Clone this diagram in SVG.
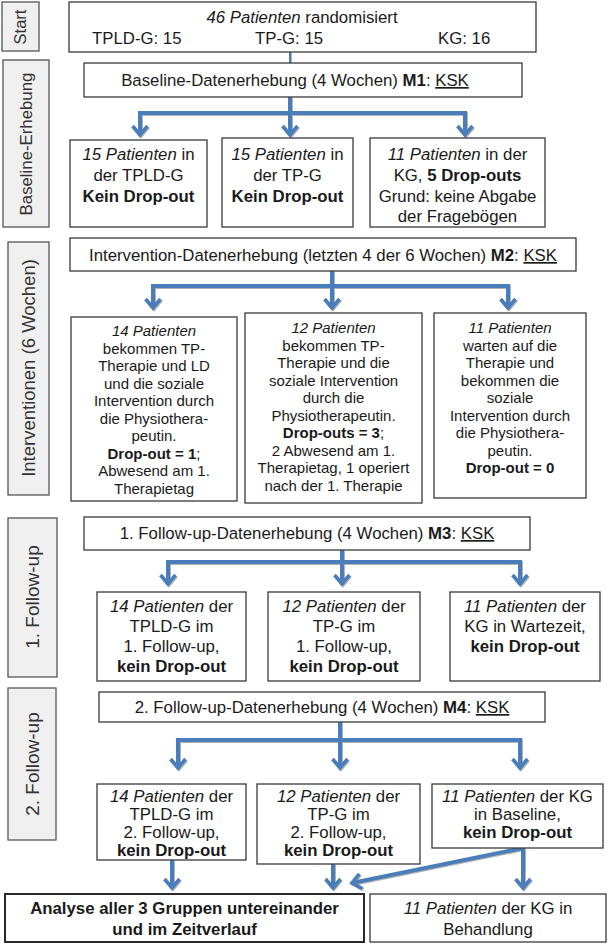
<svg xmlns="http://www.w3.org/2000/svg" width="611" height="945" viewBox="0 0 611 945">
<style>
text{font-family:"Liberation Sans",Arial,sans-serif;fill:#1a1a1a}
.t{font-size:16.8px}
.s{font-size:15px}
.c{text-anchor:middle}
.i{font-style:italic}
.b{font-weight:bold}
.u{text-decoration:underline}
.box{fill:#fff;stroke:#3a3a3a;stroke-width:1.3}
.bold{fill:#fff;stroke:#2a2a2a;stroke-width:2}
.side{fill:#f0f0f0;stroke:#555;stroke-width:1.3}
.side-t{fill:#333;text-anchor:middle}
.con{fill:none;stroke:#4a7ebb;stroke-width:4;stroke-linejoin:miter}
.thin{fill:none;stroke:#4a7ebb;stroke-width:2}
</style>
<defs>
<filter id="sh" x="-10%" y="-10%" width="120%" height="120%">
<feDropShadow dx="1" dy="1" stdDeviation="0.7" flood-color="#7f7f7f" flood-opacity="0.6"/>
</filter>
<marker id="ah" markerUnits="userSpaceOnUse" markerWidth="24" markerHeight="24" viewBox="-14 -12 18 24" refX="0" refY="0" orient="auto">
<path d="M-9,-7.5 L0,0 L-9,7.5" fill="none" stroke="#4a7ebb" stroke-width="3.6"/>
</marker>
</defs>

<!-- side labels -->
<g id="lbl-start"><rect class="side" x="2" y="2" width="37" height="49"/><text class="side-t" font-size="16.5" transform="translate(26,27) rotate(-90)">Start</text></g>
<g id="lbl-baseline"><rect class="side" x="3" y="60" width="46" height="167"/><text class="side-t" font-size="16.8" transform="translate(32,144) rotate(-90)">Baseline-Erhebung</text></g>
<g id="lbl-interv"><rect class="side" x="8" y="242" width="41" height="253"/><text class="side-t" font-size="18.5" transform="translate(35,368) rotate(-90)">Interventionen (6 Wochen)</text></g>
<g id="lbl-fu1"><rect class="side" x="8" y="518" width="49" height="159"/><text class="side-t" font-size="19" transform="translate(39,597) rotate(-90)">1. Follow-up</text></g>
<g id="lbl-fu2"><rect class="side" x="8" y="688" width="48" height="152"/><text class="side-t" font-size="19" transform="translate(39,764) rotate(-90)">2. Follow-up</text></g>

<!-- connectors -->
<g id="connectors" filter="url(#sh)">
<line class="thin" x1="290" y1="52" x2="290" y2="63"/>
<path class="con" d="M290,97 V113 M140,113 H465"/>
<path class="con" d="M140,111 V135" marker-end="url(#ah)"/>
<path class="con" d="M290,111 V135" marker-end="url(#ah)"/>
<path class="con" d="M465,111 V135" marker-end="url(#ah)"/>

<path class="con" d="M332,271 V286 M153,286 H508"/>
<path class="con" d="M153,284 V308" marker-end="url(#ah)"/>
<path class="con" d="M332,284 V308" marker-end="url(#ah)"/>
<path class="con" d="M508,284 V308" marker-end="url(#ah)"/>

<path class="con" d="M342,550 V562 M168,562 H520"/>
<path class="con" d="M168,560 V584" marker-end="url(#ah)"/>
<path class="con" d="M342,560 V584" marker-end="url(#ah)"/>
<path class="con" d="M520,560 V584" marker-end="url(#ah)"/>

<path class="con" d="M340,722 V740 M178,740 H520"/>
<path class="con" d="M178,738 V768" marker-end="url(#ah)"/>
<path class="con" d="M340,738 V768" marker-end="url(#ah)"/>
<path class="con" d="M520,738 V768" marker-end="url(#ah)"/>

<path class="con" d="M172,860 V888" marker-end="url(#ah)"/>
<path class="con" d="M333,864 V888" marker-end="url(#ah)"/>
<path class="con" d="M523,848 L352,883" marker-end="url(#ah)"/>
<path class="con" d="M523,848 V888" marker-end="url(#ah)"/>
</g>

<!-- start -->
<g id="n-start">
<rect class="box" x="69" y="2" width="467" height="50"/>
<text class="t c" x="302" y="23"><tspan class="i">46 Patienten</tspan> randomisiert</text>
<text class="t" x="92" y="44">TPLD-G: 15</text>
<text class="t" x="255" y="44">TP-G: 15</text>
<text class="t" x="438" y="44">KG: 16</text>
</g>

<g id="n-m1">
<rect class="box" x="84" y="63" width="438" height="34"/>
<text class="t c" x="295" y="86">Baseline-Datenerhebung (4 Wochen) <tspan class="b">M1</tspan>: <tspan class="u">KSK</tspan></text>
</g>

<g id="n-b1">
<rect class="box" x="70" y="140" width="137" height="87"/>
<text class="t c" x="138.5" y="160"><tspan class="i">15 Patienten</tspan> in</text>
<text class="t c" x="138.5" y="181">der TPLD-G</text>
<text class="t c b" x="138.5" y="202">Kein Drop-out</text>
</g>
<g id="n-b2">
<rect class="box" x="222" y="138" width="131" height="89"/>
<text class="t c" x="287.5" y="160"><tspan class="i">15 Patienten</tspan> in</text>
<text class="t c" x="287.5" y="181">der TP-G</text>
<text class="t c b" x="287.5" y="202">Kein Drop-out</text>
</g>
<g id="n-b3">
<rect class="box" x="370" y="138" width="175" height="89"/>
<text class="t c" x="457.5" y="160"><tspan class="i">11 Patienten</tspan> in der</text>
<text class="t c" x="457.5" y="181">KG, <tspan class="b">5 Drop-outs</tspan></text>
<text class="t c" x="457.5" y="202">Grund: keine Abgabe</text>
<text class="t c" x="457.5" y="222">der Fragebögen</text>
</g>

<g id="n-m2">
<rect class="box" x="70" y="238" width="506" height="33"/>
<text class="t c" x="323" y="261">Intervention-Datenerhebung (letzten 4 der 6 Wochen) <tspan class="b">M2</tspan>: <tspan class="u">KSK</tspan></text>
</g>

<g id="n-i1">
<rect class="box" x="71" y="317" width="166" height="184"/>
<text class="s c" x="154" y="336"><tspan class="i">14 Patienten</tspan></text>
<text class="s c" x="154" y="353.5">bekommen TP-</text>
<text class="s c" x="154" y="371">Therapie und LD</text>
<text class="s c" x="154" y="388.5">und die soziale</text>
<text class="s c" x="154" y="406">Intervention durch</text>
<text class="s c" x="154" y="423.5">die Physiothera-</text>
<text class="s c" x="154" y="441">peutin.</text>
<text class="s c" x="154" y="458.5"><tspan class="b">Drop-out = 1</tspan>;</text>
<text class="s c" x="154" y="476">Abwesend am 1.</text>
<text class="s c" x="154" y="493.5">Therapietag</text>
</g>
<g id="n-i2">
<rect class="box" x="245" y="313" width="177" height="190"/>
<text class="s c" x="333.5" y="333"><tspan class="i">12 Patienten</tspan></text>
<text class="s c" x="333.5" y="350.5">bekommen TP-</text>
<text class="s c" x="333.5" y="368">Therapie und die</text>
<text class="s c" x="333.5" y="385.5">soziale Intervention</text>
<text class="s c" x="333.5" y="403">durch die</text>
<text class="s c" x="333.5" y="420.5">Physiotherapeutin.</text>
<text class="s c" x="333.5" y="438"><tspan class="b">Drop-outs = 3</tspan>;</text>
<text class="s c" x="333.5" y="455.5">2 Abwesend am 1.</text>
<text class="s c" x="333.5" y="473">Therapietag, 1 operiert</text>
<text class="s c" x="333.5" y="490.5">nach der 1. Therapie</text>
</g>
<g id="n-i3">
<rect class="box" x="434" y="313" width="152" height="185"/>
<text class="s c" x="510" y="333"><tspan class="i">11 Patienten</tspan></text>
<text class="s c" x="510" y="350.5">warten auf die</text>
<text class="s c" x="510" y="368">Therapie und</text>
<text class="s c" x="510" y="385.5">bekommen die</text>
<text class="s c" x="510" y="403">soziale</text>
<text class="s c" x="510" y="420.5">Intervention durch</text>
<text class="s c" x="510" y="438">die Physiothera-</text>
<text class="s c" x="510" y="455.5">peutin.</text>
<text class="s c b" x="510" y="473">Drop-out = 0</text>
</g>

<g id="n-m3">
<rect class="box" x="84" y="517" width="446" height="33"/>
<text class="t c" x="307" y="539">1. Follow-up-Datenerhebung (4 Wochen) <tspan class="b">M3</tspan>: <tspan class="u">KSK</tspan></text>
</g>
<g id="n-f1">
<rect class="box" x="97" y="592" width="149" height="89"/>
<text class="t c" x="171.5" y="612"><tspan class="i">14 Patienten</tspan> der</text>
<text class="t c" x="171.5" y="632">TPLD-G im</text>
<text class="t c" x="171.5" y="652">1. Follow-up,</text>
<text class="t c b" x="171.5" y="672">kein Drop-out</text>
</g>
<g id="n-f2">
<rect class="box" x="268" y="592" width="152" height="89"/>
<text class="t c" x="344" y="612"><tspan class="i">12 Patienten</tspan> der</text>
<text class="t c" x="344" y="632">TP-G im</text>
<text class="t c" x="344" y="652">1. Follow-up,</text>
<text class="t c b" x="344" y="672">kein Drop-out</text>
</g>
<g id="n-f3">
<rect class="box" x="450" y="592" width="150" height="89"/>
<text class="t c" x="525" y="612"><tspan class="i">11 Patienten</tspan> der</text>
<text class="t c" x="525" y="632">KG in Wartezeit,</text>
<text class="t c b" x="525" y="652">kein Drop-out</text>
</g>

<g id="n-m4">
<rect class="box" x="99" y="692" width="446" height="30"/>
<text class="t c" x="322" y="713">2. Follow-up-Datenerhebung (4 Wochen) <tspan class="b">M4</tspan>: <tspan class="u">KSK</tspan></text>
</g>
<g id="n-g1">
<rect class="box" x="97" y="784" width="149" height="76"/>
<text class="t c" x="171.5" y="802"><tspan class="i">14 Patienten</tspan> der</text>
<text class="t c" x="171.5" y="820">TPLD-G im</text>
<text class="t c" x="171.5" y="838">2. Follow-up,</text>
<text class="t c b" x="171.5" y="856">kein Drop-out</text>
</g>
<g id="n-g2">
<rect class="box" x="257" y="784" width="163" height="80"/>
<text class="t c" x="338.5" y="802"><tspan class="i">12 Patienten</tspan> der</text>
<text class="t c" x="338.5" y="820">TP-G im</text>
<text class="t c" x="338.5" y="838">2. Follow-up,</text>
<text class="t c b" x="338.5" y="856">kein Drop-out</text>
</g>
<g id="n-g3">
<rect class="box" x="432" y="784" width="171" height="64"/>
<text class="t c" x="517.5" y="802"><tspan class="i">11 Patienten</tspan> der KG</text>
<text class="t c" x="517.5" y="820">in Baseline,</text>
<text class="t c b" x="517.5" y="838">kein Drop-out</text>
</g>

<g id="n-analyse">
<rect class="bold" x="5" y="894" width="359" height="48"/>
<text class="t c b" x="184.5" y="914">Analyse aller 3 Gruppen untereinander</text>
<text class="t c b" x="184.5" y="935">und im Zeitverlauf</text>
</g>
<g id="n-behandlung">
<rect class="box" x="370" y="894" width="236" height="48"/>
<text class="t c" x="488" y="914"><tspan class="i">11 Patienten</tspan> der KG in</text>
<text class="t c" x="488" y="935">Behandlung</text>
</g>
</svg>
